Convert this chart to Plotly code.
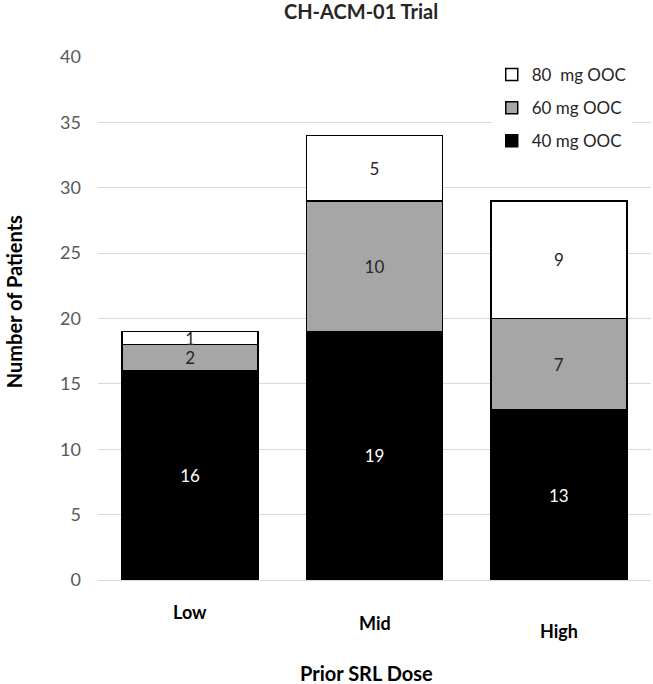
import plotly.graph_objects as go

categories = ["Low", "Mid", "High"]
dose40 = [16, 19, 13]
dose60 = [2, 10, 7]
dose80 = [1, 5, 9]
series_names = ["40 mg OOC", "60 mg OOC", "80  mg OOC"]
label_offsets = [-0.062, -0.083, -0.098]

FONT = "Lato, 'Noto Sans', sans-serif"

fig = go.Figure()
specs = [
    (dose40, series_names[0], "#000000", "#ffffff", 3),
    (dose60, series_names[1], "#a6a6a6", "#262626", 2),
    (dose80, series_names[2], "#ffffff", "#262626", 1),
]
for i, (vals, name, col, tcol, rank) in enumerate(specs):
    fig.add_trace(go.Bar(
        x=categories, y=vals, name=name,
        marker=dict(color=col, line=dict(color="#000000", width=1.5)),
        text=[str(v) for v in vals], textposition="inside",
        insidetextanchor="middle", textangle=0,
        textfont=dict(color=tcol, size=17, family=FONT),
        legendgroup=f"g{i}", legendrank=rank,
    ))

for cat, off in zip(categories, label_offsets):
    fig.add_annotation(x=cat, xref="x", y=off, yref="paper", text=f"<b>{cat}</b>",
                       showarrow=False, yanchor="middle",
                       font=dict(size=18, color="#000000", family=FONT))

# axis titles
fig.add_annotation(x=0.486, xref="paper", y=-0.178, yref="paper",
                   text="<b>Prior SRL Dose</b>", showarrow=False,
                   xanchor="center", yanchor="middle",
                   font=dict(size=20, color="#000000", family=FONT))
fig.add_annotation(x=-0.152, xref="paper", y=0.533, yref="paper",
                   text="<b>Number of Patients</b>", showarrow=False, textangle=-90,
                   xanchor="center", yanchor="middle",
                   font=dict(size=20, color="#000000", family=FONT))

fig.update_layout(
    width=653, height=684,
    barmode="stack", bargap=0.263,
    paper_bgcolor="white", plot_bgcolor="white",
    margin=dict(l=98, r=2, t=57, b=104),
    font=dict(family=FONT, color="#595959", size=15),
    uniformtext=dict(minsize=17, mode="show"),
    title=dict(text="<b>CH-ACM-01 Trial</b>", x=0.553, xref="container",
               y=0.982, yref="container", yanchor="middle", xanchor="center",
               font=dict(size=20, color="#262626", family=FONT)),
    legend=dict(x=0.712, y=1.0, xanchor="left", yanchor="top", traceorder="grouped",
                tracegroupgap=8, bgcolor="white",
                font=dict(size=17, color="#262626", family=FONT)),
    xaxis=dict(showticklabels=False, showgrid=False, showline=False, ticks=""),
    yaxis=dict(range=[0, 40], dtick=5, showgrid=True, gridcolor="#d9d9d9", gridwidth=1,
               zeroline=True, zerolinecolor="#d9d9d9", zerolinewidth=1,
               showline=False, ticks="", ticklabelstandoff=16,
               tickfont=dict(size=18, color="#595959")),
)

fig.write_html("out.html", config={"displayModeBar": False},
               post_script="document.body.style.margin='0';")
